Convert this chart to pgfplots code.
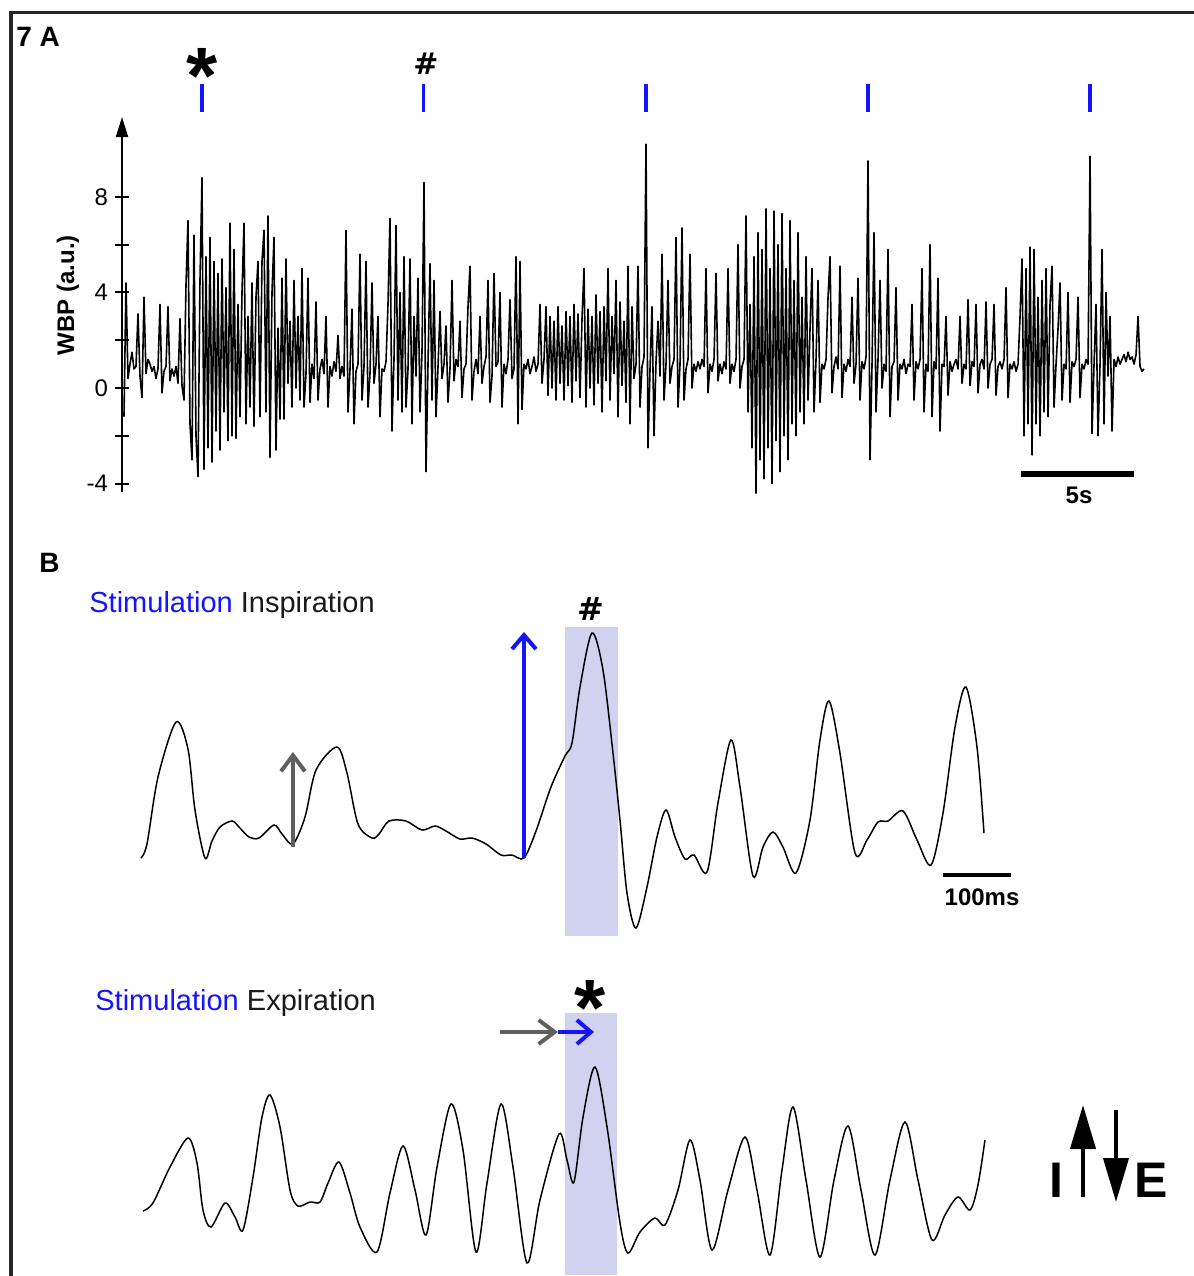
\documentclass[border=0pt]{standalone}
\usepackage{fontspec}
\setmainfont{Liberation Sans}
\newfontfamily\symfont{DejaVu Sans}
\usepackage{pgfplots}
\pgfplotsset{compat=1.18}
\usepackage{pgfplotstable}
\usetikzlibrary{arrows.meta}

\definecolor{stimblue}{RGB}{20,20,255}
\definecolor{shade}{RGB}{208,210,239}
\definecolor{arrowgray}{RGB}{95,95,95}

% panel A: whole-body plethysmography trace, one sample every 0.0885 s
\pgfplotstableread[row sep=\\]{
wbp\\
-1.2\\ 4.4\\ 0.4\\ 1.0\\ 1.5\\ 0.8\\ 0.9\\ 3.1\\ 0.5\\ -0.4\\
3.8\\ 0.6\\ 1.2\\ 1.0\\ 0.7\\ 0.9\\ 0.4\\ 0.8\\ 3.5\\ -0.2\\
0.7\\ 0.9\\ 3.4\\ 0.3\\ 0.8\\ 0.5\\ 0.9\\ 0.2\\ 2.9\\ 0.1\\
-0.5\\ 4.3\\ 7.0\\ -1.5\\ -3.0\\ 6.4\\ -2.0\\ -3.7\\ 4.5\\ 8.8\\
-3.4\\ 5.5\\ -2.5\\ 6.3\\ -3.1\\ 5.3\\ -1.8\\ 4.8\\ -2.6\\ 5.4\\
-1.0\\ 4.2\\ -2.2\\ 6.9\\ -2.0\\ 5.8\\ -2.1\\ 3.5\\ -1.2\\ 4.0\\
6.9\\ -1.5\\ 3.0\\ -0.8\\ 4.4\\ -1.6\\ 3.8\\ 5.3\\ -1.2\\ 5.3\\
6.6\\ -1.0\\ 7.2\\ -2.9\\ 4.0\\ 6.3\\ -2.6\\ 2.5\\ -1.3\\ 4.6\\
-1.3\\ 5.4\\ 0.2\\ 2.8\\ -0.8\\ 4.5\\ 0.0\\ 3.0\\ -0.5\\ 5.0\\
-0.8\\ 0.6\\ 4.6\\ -0.6\\ 1.0\\ 0.4\\ 3.6\\ -0.5\\ 0.8\\ 1.2\\
0.6\\ 3.0\\ -0.8\\ 0.9\\ 0.5\\ 1.1\\ 0.7\\ 2.2\\ 0.4\\ 0.9\\
0.5\\ 6.6\\ -1.0\\ 0.8\\ 3.3\\ -1.5\\ 0.7\\ 1.0\\ 5.6\\ -0.5\\
0.9\\ 5.3\\ -0.8\\ 0.6\\ 4.4\\ 0.2\\ 1.0\\ 3.0\\ -1.2\\ 0.8\\
0.7\\ 1.1\\ 3.5\\ 7.1\\ -1.8\\ 1.2\\ 6.8\\ -0.5\\ 4.0\\ -1.0\\
5.5\\ -0.8\\ 0.8\\ 5.4\\ -1.5\\ 3.0\\ 0.5\\ 4.6\\ -1.0\\ 1.5\\
8.6\\ -3.5\\ 1.0\\ 5.2\\ -0.5\\ 4.5\\ -1.2\\ 0.9\\ 3.2\\ 0.4\\
1.0\\ 2.6\\ -0.6\\ 0.8\\ 4.5\\ 0.3\\ 1.2\\ 0.9\\ 2.8\\ -0.4\\
0.8\\ 1.0\\ 3.4\\ 5.1\\ -0.5\\ 0.7\\ 1.2\\ 0.6\\ 3.0\\ 0.2\\
0.9\\ 1.3\\ 4.5\\ -0.6\\ 0.5\\ 4.8\\ 0.9\\ 1.1\\ 4.0\\ -0.8\\
1.0\\ 0.6\\ 1.2\\ 3.7\\ 0.4\\ 0.8\\ 5.5\\ -1.5\\ 5.3\\ -0.9\\
1.0\\ 0.8\\ 1.2\\ 0.6\\ 0.9\\ 1.3\\ 0.7\\ 1.0\\ 3.5\\ 0.2\\
1.2\\ 3.4\\ -0.3\\ 3.0\\ 0.0\\ 2.8\\ -0.5\\ 3.4\\ 0.2\\ 2.6\\
-0.5\\ 3.2\\ 0.1\\ 3.0\\ -0.6\\ 3.5\\ 0.3\\ 3.1\\ -0.4\\ 2.9\\
5.0\\ -0.8\\ 3.3\\ 0.0\\ 3.0\\ -0.7\\ 3.9\\ 0.2\\ 3.2\\ -1.0\\
3.4\\ 0.3\\ 5.0\\ -0.5\\ 3.0\\ 0.6\\ 4.5\\ -1.2\\ 3.6\\ 0.1\\
2.8\\ -0.6\\ 5.1\\ -1.5\\ 3.4\\ 0.4\\ 1.0\\ 5.1\\ -0.8\\ 0.9\\
1.3\\ 10.2\\ -2.5\\ 0.8\\ 3.4\\ -2.0\\ 1.1\\ 2.8\\ 0.5\\ 5.6\\
-0.5\\ 1.0\\ 4.5\\ 0.2\\ 0.9\\ 1.2\\ 6.3\\ -0.8\\ 1.0\\ 6.7\\
-0.5\\ 0.8\\ 1.2\\ 5.6\\ 0.0\\ 1.0\\ 0.7\\ 1.1\\ 0.8\\ 1.2\\
0.9\\ 5.0\\ -0.2\\ 1.0\\ 0.7\\ 1.2\\ 4.8\\ 0.3\\ 1.0\\ 0.6\\
1.1\\ 0.8\\ 5.0\\ 0.2\\ 1.0\\ 0.7\\ 1.2\\ 6.0\\ 0.0\\ 0.9\\
1.2\\ 7.2\\ -1.0\\ 3.5\\ -2.5\\ 5.5\\ -4.4\\ 6.5\\ -3.0\\ 5.8\\
-3.8\\ 7.5\\ -2.5\\ 5.0\\ -4.0\\ 7.4\\ -2.2\\ 6.0\\ -3.5\\ 7.3\\
-2.0\\ 5.0\\ -3.0\\ 7.0\\ -1.5\\ 4.5\\ -2.0\\ 6.5\\ -1.0\\ 3.8\\
-1.5\\ 5.5\\ -0.5\\ 2.5\\ 5.0\\ -1.0\\ 1.2\\ 4.5\\ -0.6\\ 1.0\\
0.8\\ 1.2\\ 3.8\\ 5.5\\ -0.2\\ 0.9\\ 1.3\\ 0.8\\ 5.1\\ -0.4\\
1.0\\ 0.7\\ 1.2\\ 0.9\\ 3.8\\ 0.2\\ 1.0\\ 4.6\\ -0.5\\ 1.1\\
0.8\\ 1.3\\ 9.5\\ -3.0\\ 1.0\\ 6.5\\ -1.0\\ 1.2\\ 4.5\\ 0.0\\
1.0\\ 0.7\\ 5.8\\ -1.2\\ 0.9\\ 1.1\\ 4.2\\ -0.5\\ 1.0\\ 0.8\\
1.2\\ 0.6\\ 1.0\\ 0.9\\ 3.5\\ -0.5\\ 1.1\\ 0.8\\ 1.2\\ 5.0\\
-1.0\\ 1.0\\ 0.7\\ 6.0\\ -1.2\\ 1.1\\ 0.8\\ 4.6\\ -1.8\\ 1.0\\
0.9\\ 3.0\\ -0.3\\ 1.1\\ 0.7\\ 1.0\\ 1.2\\ 0.8\\ 3.0\\ 0.2\\
1.0\\ 0.8\\ 3.7\\ 0.1\\ 1.1\\ 0.9\\ 3.5\\ -0.2\\ 1.0\\ 1.2\\
0.8\\ 3.6\\ 0.0\\ 1.0\\ 1.2\\ 3.5\\ -0.3\\ 0.9\\ 1.1\\ 0.8\\
1.2\\ 4.2\\ -0.4\\ 1.0\\ 0.8\\ 1.1\\ 0.7\\ 1.0\\ 3.0\\ 5.4\\
-2.0\\ 5.0\\ -1.5\\ 5.9\\ -2.8\\ 5.8\\ -1.5\\ 3.8\\ -2.0\\ 4.5\\
-1.0\\ 5.0\\ -1.2\\ 3.5\\ 5.1\\ -0.8\\ 1.0\\ 2.5\\ 4.4\\ -0.5\\
1.0\\ 0.8\\ 4.0\\ -0.6\\ 1.1\\ 0.9\\ 1.2\\ 3.8\\ -0.4\\ 1.0\\
0.8\\ 1.2\\ 1.0\\ 9.7\\ -1.9\\ 1.0\\ 3.5\\ -2.0\\ 1.0\\ 5.8\\
-1.5\\ 4.0\\ 0.5\\ 3.0\\ -1.8\\ 1.2\\ 0.9\\ 1.3\\ 1.0\\ 1.2\\
1.4\\ 1.1\\ 1.5\\ 1.2\\ 1.3\\ 1.0\\ 1.4\\ 3.0\\ 0.9\\ 0.7\\ 0.8\\
}\wbp

% panel B, stimulation in inspiration (t in ms, y in a.u.)
\pgfplotstableread{
t y
0 0.0
8.8 1.4
25.0 8.1
51.5 13.6
69.1 10.9
79.4 4.8
94.1 0.0
104.4 1.7
116.2 3.1
133.8 3.7
144.1 3.1
158.8 2.1
173.5 2.0
195.6 3.3
207.4 2.4
223.5 1.4
241.2 4.1
257.4 8.8
288.2 11.1
302.9 8.5
319.1 3.4
339.7 2.0
350.0 2.4
364.7 3.7
389.7 3.7
413.2 2.8
432.4 3.2
448.5 2.7
469.1 1.9
486.8 2.0
507.4 1.4
529.4 0.3
545.6 0.3
563.2 0.0
580.9 2.7
602.9 7.1
623.5 10.2
633.8 11.5
645.6 17.1
663.2 22.5
679.4 18.8
694.1 10.5
704.4 3.8
714.7 -3.5
727.9 -7.0
744.1 -2.9
758.8 2.1
772.1 4.8
785.3 2.1
800.0 -0.1
813.2 0.3
832.4 -1.4
848.5 5.5
867.6 11.8
880.9 7.1
900.0 -1.8
914.7 1.1
929.4 2.6
944.1 1.1
963.2 -1.5
983.8 3.8
998.5 11.8
1011.8 15.7
1027.9 10.5
1050.0 0.5
1067.6 1.8
1083.8 3.6
1098.5 3.7
1120.6 4.7
1141.2 1.8
1161.8 -0.7
1179.4 4.5
1197.1 13.1
1213.2 17.1
1229.4 11.1
1239.7 2.5
}\inspir

% panel B, stimulation in expiration
\pgfplotstableread{
t y
0 0.0
14.7 0.8
39.7 4.4
66.2 7.3
79.4 4.8
88.2 0.1
100.0 -1.6
120.6 0.8
135.3 -0.6
147.1 -1.9
161.8 3.4
175.0 9.4
186.8 11.6
201.5 8.4
216.2 2.1
227.9 0.5
245.6 0.9
260.3 0.9
272.1 2.8
288.2 4.9
304.4 1.8
319.1 -1.6
344.1 -4.1
363.2 1.8
382.4 6.5
400.0 2.1
416.2 -2.4
432.4 4.4
452.9 10.7
470.6 6.1
489.7 -4.1
505.9 2.8
526.5 10.7
544.1 4.4
564.7 -5.2
583.8 1.1
611.8 7.7
623.5 5.1
633.8 2.9
647.1 9.4
664.7 14.4
682.4 8.4
701.5 -1.2
713.2 -4.2
730.9 -2.1
752.9 -0.7
767.6 -1.4
786.8 2.1
804.4 7.1
819.1 3.1
836.8 -3.9
860.3 2.1
885.3 7.4
902.9 2.1
922.1 -4.4
939.7 4.1
955.9 10.4
975.0 3.1
995.6 -4.6
1016.2 3.1
1036.8 8.5
1055.9 2.1
1076.5 -4.4
1098.5 3.1
1120.6 8.9
1139.7 3.1
1160.3 -2.9
1179.4 -0.4
1198.5 1.4
1216.2 0.1
1227.9 2.6
1238.2 7.1
}\expir

\begin{document}
\begin{tikzpicture}
\useasboundingbox (0,0) rectangle (597pt,-638pt);
% frame
\draw[line width=1.6pt, black!85] (5.5pt,-640pt) -- (5.5pt,-6.3pt) -- (600pt,-6.3pt);

% panel labels and texts
\node[anchor=base west, inner sep=0pt, font=\fontsize{14}{16}\selectfont\bfseries] at (8pt,-23pt) {7 A};
\node[anchor=base west, inner sep=0pt, font=\fontsize{14}{16}\selectfont\bfseries] at (19.5pt,-286pt) {B};
\node[rotate=90, inner sep=0pt, font=\fontsize{12}{14}\selectfont\bfseries] at (34pt,-147.5pt) {WBP (a.u.)};
\node[anchor=base west, inner sep=0pt, font=\fontsize{14.5}{16}\selectfont, text=black!90] at (44.5pt,-306pt) {\textcolor{stimblue}{Stimulation} Inspiration};
\node[anchor=base west, inner sep=0pt, font=\fontsize{14.5}{16}\selectfont, text=black!90] at (47.5pt,-505pt) {\textcolor{stimblue}{Stimulation} Expiration};

% I / E legend
\draw[line width=2pt, -{Triangle[length=22pt,width=12.5pt]}] (541.5pt,-598.5pt) -- (541.5pt,-552.5pt);
\draw[line width=2pt, -{Triangle[length=22pt,width=12.5pt]}] (558pt,-555pt) -- (558pt,-601pt);
\node[anchor=base west, inner sep=0pt, font=\fontsize{25}{28}\selectfont\bfseries] at (524.5pt,-598.5pt) {I};
\node[anchor=base west, inner sep=0pt, font=\fontsize{25}{28}\selectfont\bfseries] at (567pt,-598.5pt) {E};

% ---------- panel A ----------
\begin{axis}[
    at={(61pt,-246pt)}, anchor=south west,
    x=11.3pt, y=11.95pt,
    xmin=-0.088, xmax=45.2, ymin=-4.35, ymax=11.34,
    axis x line=none, axis y line=left,
    y axis line style={line width=1pt, -{Triangle[length=10pt,width=6pt]}},
    ytick={-4,0,4,8}, minor ytick={-2,2,6},
    tick align=center, major tick length=7pt, minor tick length=7pt,
    every tick/.style={line width=1pt, black},
    yticklabel style={font=\fontsize{12}{14}\selectfont},
    /pgf/number format/assume math mode=true,
    clip=false,
]
\addplot[black, line width=0.8pt, line join=round] table[x expr=\coordindex*0.0885, y=wbp] {\wbp};
\addplot[only marks, mark=|, color=stimblue, mark size=7pt, mark options={line width=1.6pt}]
    coordinates {(3.45,12.13) (13.27,12.13) (23.10,12.13) (32.92,12.13) (42.74,12.13)};
\node[anchor=base, inner sep=0pt, font=\fontsize{40}{40}\selectfont\bfseries] at (axis cs:3.45,11.9) {*};
\node[anchor=base, inner sep=0pt, font=\fontsize{15}{18}\selectfont\symfont\bfseries] at (axis cs:13.36,13.1) {\#};
\draw[line width=2.6pt] (axis cs:39.69,-3.6) -- (axis cs:44.69,-3.6);
\node[font=\fontsize{12}{14}\selectfont\bfseries] at (axis cs:42.26,-4.48) {5s};
\end{axis}

% ---------- panel B, inspiration ----------
\begin{axis}[
    at={(67.1pt,-479pt)}, anchor=south west,
    x=0.34pt, y=5pt,
    xmin=-10, xmax=1300, ymin=-10, ymax=25,
    hide axis, clip=false,
]
\addplot[fill=shade, draw=none] coordinates {(623.5,-7.8) (701.5,-7.8) (701.5,23.1) (623.5,23.1)};
\addplot[black, line width=0.75pt, smooth] table[x=t, y=y] {\inspir};
\draw[arrowgray, line width=2pt, -{Straight Barb[length=8pt,width=12pt]}] (axis cs:223.5,1.1) -- (axis cs:223.5,10.6);
\draw[stimblue, line width=2pt, -{Straight Barb[length=7pt,width=12pt]}] (axis cs:563.2,0) -- (axis cs:563.2,22.6);
\node[anchor=base, inner sep=0pt, font=\fontsize{16}{18}\selectfont\symfont\bfseries] at (axis cs:661.8,23.8) {\#};
\draw[line width=2pt] (axis cs:1179.4,-1.7) -- (axis cs:1279.4,-1.7);
\node[font=\fontsize{12}{14}\selectfont\bfseries] at (axis cs:1236.8,-3.9) {100ms};
\end{axis}

% ---------- panel B, expiration ----------
\begin{axis}[
    at={(68.1pt,-655.5pt)}, anchor=south west,
    x=0.34pt, y=5pt,
    xmin=-10, xmax=1300, ymin=-10, ymax=25,
    hide axis, clip=false,
]
\addplot[fill=shade, draw=none] coordinates {(620.6,-6.4) (697.1,-6.4) (697.1,19.8) (620.6,19.8)};
\addplot[black, line width=0.75pt, smooth] table[x=t, y=y] {\expir};
\draw[arrowgray, line width=2pt, -{Straight Barb[length=8pt,width=12pt]}] (axis cs:525,17.9) -- (axis cs:610.3,17.9);
\draw[stimblue, line width=2pt, -{Straight Barb[length=7pt,width=12pt]}] (axis cs:610.3,17.9) -- (axis cs:663.2,17.9);
\node[anchor=base, inner sep=0pt, font=\fontsize{40}{40}\selectfont\bfseries] at (axis cs:657.4,17.6) {*};
\end{axis}
\end{tikzpicture}
\end{document}
